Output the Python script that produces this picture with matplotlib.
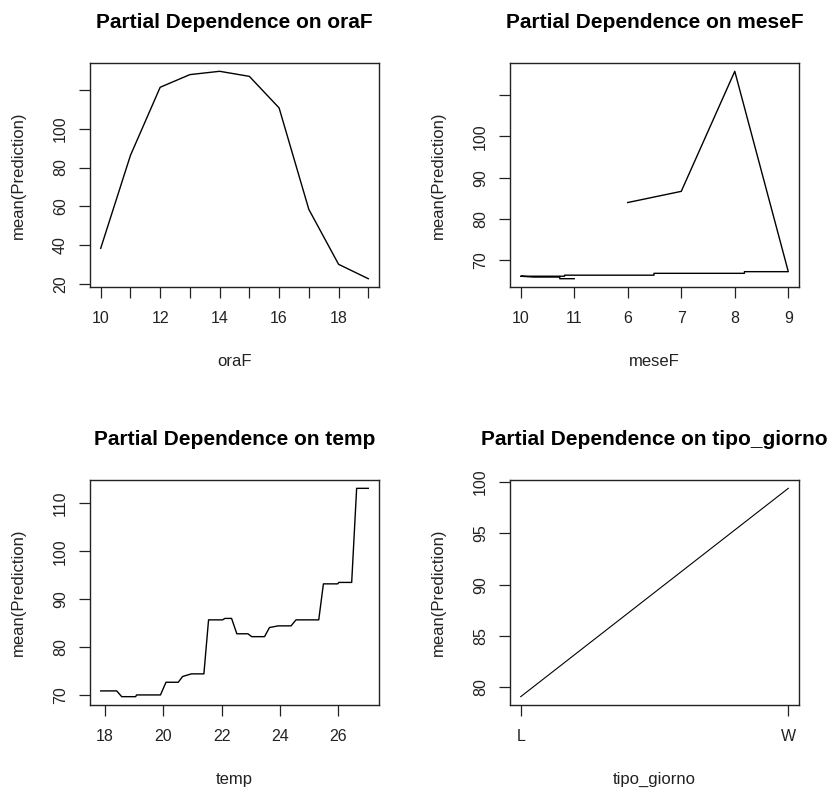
import matplotlib
matplotlib.use("Agg")
import matplotlib.pyplot as plt

plt.rcParams['font.family'] = ['Liberation Sans', 'DejaVu Sans']

# ---- Data ----
ora_x = [10, 11, 12, 13, 14, 15, 16, 17, 18, 19]
ora_y = [38.5, 86.2, 121.2, 127.7, 129.4, 126.8, 110.6, 58.5, 30.3, 22.9]

mese_levels = ['10', '11', '6', '7', '8', '9']
mese_path_x = [3, 4, 5, 6, 5.18, 5.18, 3.49, 3.49, 1.82, 1.82, 1.0, 1.24, 1.73, 1.73, 2.0]
mese_path_y = [84.0, 86.7, 115.7, 67.3, 67.3, 66.9, 66.9, 66.45, 66.45, 66.2, 66.2, 66.0, 66.0, 65.6, 65.6]

temp_x = [17.85, 18.40, 18.57, 19.05, 19.08, 19.90, 20.09, 20.51, 20.66, 20.96, 21.39,
          21.55, 22.03, 22.11, 22.34, 22.52, 22.90, 23.03, 23.47, 23.64, 23.94, 24.38,
          24.55, 25.33, 25.49, 25.98, 26.02, 26.46, 26.63, 27.03]
temp_y = [70.9, 70.9, 69.7, 69.7, 70.06, 70.06, 72.7, 72.7, 73.9, 74.45, 74.45,
          85.7, 85.7, 86.0, 86.0, 82.8, 82.8, 82.2, 82.2, 84.1, 84.45, 84.45,
          85.7, 85.7, 93.2, 93.2, 93.5, 93.5, 113.1, 113.1]

tipo_levels = ['L', 'W']
tipo_y = [79.1, 99.38]

W, H = 833, 792
fig = plt.figure(figsize=(W / 100, H / 100), dpi=100)


def make_ax(x0, y0, x1, y1):
    return fig.add_axes([x0 / W, 1 - y1 / H, (x1 - x0) / W, (y1 - y0) / H])


def style(ax, title, xlabel):
    ax.margins(0.04)
    ax.set_title(title, fontsize=15, fontweight='bold', pad=25)
    ax.set_xlabel(xlabel, fontsize=12, labelpad=20, color='#222222')
    ax.set_ylabel('mean(Prediction)', fontsize=12, labelpad=19, color='#222222')
    for s in ax.spines.values():
        s.set_linewidth(1.0)
        s.set_color('#222222')
    ax.tick_params(direction='out', length=8, width=0.9, labelsize=11.5,
                   colors='#222222')
    ax.tick_params(axis='x', pad=9.5)
    ax.tick_params(axis='y', pad=8, labelrotation=90)
    for lab in ax.get_yticklabels():
        lab.set_va('center')


# Panel 1
ax1 = make_ax(90, 63, 379, 287)
ax1.plot(ora_x, ora_y, color='black', lw=1.0)
ax1.set_xticks(ora_x)
ax1.set_xticklabels([str(v) if v % 2 == 0 else '' for v in ora_x])
yt = [20, 40, 60, 80, 100, 120]
ax1.set_yticks(yt)
ax1.set_yticklabels([str(v) if v != 120 else '' for v in yt])
style(ax1, 'Partial Dependence on oraF', 'oraF')

# Panel 2
ax2 = make_ax(510, 63, 799, 287)
ax2.plot(mese_path_x, mese_path_y, color='black', lw=1.0)
ax2.set_xticks(range(1, len(mese_levels) + 1))
ax2.set_xticklabels(mese_levels)
yt = [70, 80, 90, 100, 110]
ax2.set_yticks(yt)
ax2.set_yticklabels([str(v) if v != 110 else '' for v in yt])
style(ax2, 'Partial Dependence on meseF', 'meseF')

# Panel 3
ax3 = make_ax(90, 480, 379, 705)
ax3.plot(temp_x, temp_y, color='black', lw=1.0)
ax3.set_xticks([18, 20, 22, 24, 26])
ax3.set_yticks([70, 80, 90, 100, 110])
style(ax3, 'Partial Dependence on temp', 'temp')

# Panel 4
ax4 = make_ax(510, 480, 799, 705)
ax4.plot(range(1, len(tipo_levels) + 1), tipo_y, color='black', lw=0.8)
ax4.set_xticks(range(1, len(tipo_levels) + 1))
ax4.set_xticklabels(tipo_levels)
ax4.set_yticks([80, 85, 90, 95, 100])
style(ax4, 'Partial Dependence on tipo_giorno', 'tipo_giorno')

fig.savefig('out.png', dpi=100)
